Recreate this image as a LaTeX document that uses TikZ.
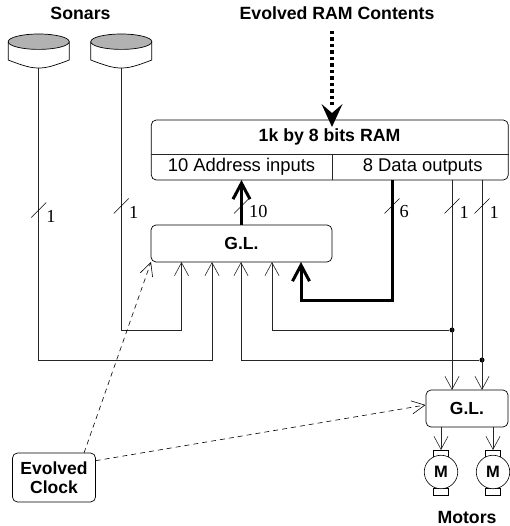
\documentclass[tikz,border=0pt]{standalone}
\usepackage{fontspec}
\setmainfont{Liberation Sans}
\newfontfamily\labelfont{Liberation Serif}
\usetikzlibrary{arrows.meta,shapes.geometric}

\tikzset{
  box/.style={draw, line width=0.7pt, rounded corners=5pt, inner sep=0pt, font=\fontsize{17.5}{19.5}\selectfont\bfseries, align=center},
  title/.style={inner sep=0pt, font=\fontsize{17.7}{20}\selectfont\bfseries},
  cell/.style={inner sep=0pt, font=\fontsize{18.4}{20}\selectfont},
  thin line/.style={line width=0.7pt, gray!30!black},
  sig/.style={thin line, -{Straight Barb[length=13pt,width=14pt,line width=0.6pt]}},
  bus/.style={line width=3pt, -{Straight Barb[length=16pt,width=17pt,line width=3pt]}},
  clock/.style={line width=0.6pt, dash pattern=on 5pt off 4pt, -{Straight Barb[length=13pt,width=13pt,line width=0.6pt]}},
  tick/.style={line width=0.5pt},
  bits/.style={font=\fontsize{18.3}{20}\selectfont\labelfont, inner sep=0pt},
  dot/.style={circle, fill=black, inner sep=0pt, minimum size=5pt},
}
% sonar drawn from its lower middle point
\newcommand{\sonar}[2]{
  \coordinate (#2) at (#1,68);
  \draw[line width=0.7pt] (#1-30.5,41.7) -- (#1-30.5,60) .. controls (#1-15,66) and (#1-8,68) .. (#1,68)
    .. controls (#1+8,68) and (#1+15,66) .. (#1+30.5,60) -- (#1+30.5,41.7);
  \draw[line width=0.7pt, fill=black!30] (#1,41.7) ellipse (30.5 and 7.7);
}
% motor drawn from its centre
\newcommand{\motor}[2]{
  \draw[line width=0.6pt] (#1-7.5,450) rectangle (#1+7.5,457);
  \draw[line width=0.6pt] (#1-7.5,488) rectangle (#1+7.5,495);
  \node[circle, draw, fill=white, line width=0.6pt, minimum size=33.5pt, inner sep=0pt, font=\fontsize{16.5}{18}\selectfont\bfseries] (#2) at (#1,472) {M};
}

\begin{document}
\begin{tikzpicture}[x=1pt, y=-1pt]
  \useasboundingbox (0,0) rectangle (509,526);

  % Titles
  \node[title] (sonars) at (80.5,13) {Sonars};
  \node[title] (contents) at (337,13) {Evolved RAM Contents};
  \node[title] (motors) at (467,517) {Motors};

  % Sonars
  \sonar{38.7}{sonarA}
  \sonar{121.3}{sonarB}

  % RAM
  \node[box, minimum width=357pt, minimum height=60pt] (ram) at (329.75,150) {};
  \draw[thin line] (ram.west |- 0,154) -- (ram.east |- 0,154);
  \draw[thin line] (332,154) -- (332,180);
  \node[title] (ramname) at (329.5,137) {1k by 8 bits RAM};
  \node[cell] (addr) at (241.5,167) {10 Address inputs};
  \node[cell] (data) at (422.7,167) {8 Data outputs};

  % Logic and clock
  \node[box, minimum width=181pt, minimum height=37pt] (glA) at (241.5,243.5) {G.L.};
  \node[box, minimum width=82pt, minimum height=37pt] (glB) at (467,408.5) {G.L.};
  \node[box, minimum width=83pt, minimum height=49pt] (clk) at (54,477.5) {Evolved\\Clock};

  % Motors
  \motor{441}{motA}
  \motor{493}{motB}

  % Wires up into the first logic box
  \node[dot] (jA) at (452,330) {};
  \node[dot] (jB) at (482,360) {};
  \draw[sig] (sonarA) |- (212,360) -- (212,262);
  \draw[sig] (sonarB) |- (181.5,330) -- (181.5,262);
  \draw[sig] (jB) -- (241,360) -- (241,262);
  \draw[sig] (jA) -- (272,330) -- (272,262);

  % Wires from the RAM
  \draw[sig] (452,180) -- (452,390);
  \draw[sig] (482,180) -- (482,390);
  \draw[bus] (392,180) |- (301,300) -- (301,262);
  \draw[bus] (241.5,225) -- (241.5,180);
  \draw[line width=4pt, dash pattern=on 3.5pt off 3pt] (332,31) -- (332,105);
  \fill (332,127) -- (342.5,104) -- (332,113) -- (321.5,104) -- cycle;

  % Motor wires
  \draw[sig] (441,427) -- (441,450);
  \draw[sig] (493,427) -- (493,450);

  % Clock lines
  \draw[clock] (84,453) -- (151,262);
  \draw[clock] (95.7,460.7) -- (425.5,405);

  % Bus widths
  \foreach \x/\y/\w/\name in {38.7/210/1/a, 121.3/206/1/b, 241.5/206/10/c, 392/206/6/d, 452/206/1/e, 482/206/1/f}{
    \draw[tick] (\x-7.5,\y+7.5) -- (\x+7.5,\y-7.5);
    \node[bits, anchor=west] (bit\name) at (\x+7.5,\y+6) {\w};
  }
\end{tikzpicture}
\end{document}
